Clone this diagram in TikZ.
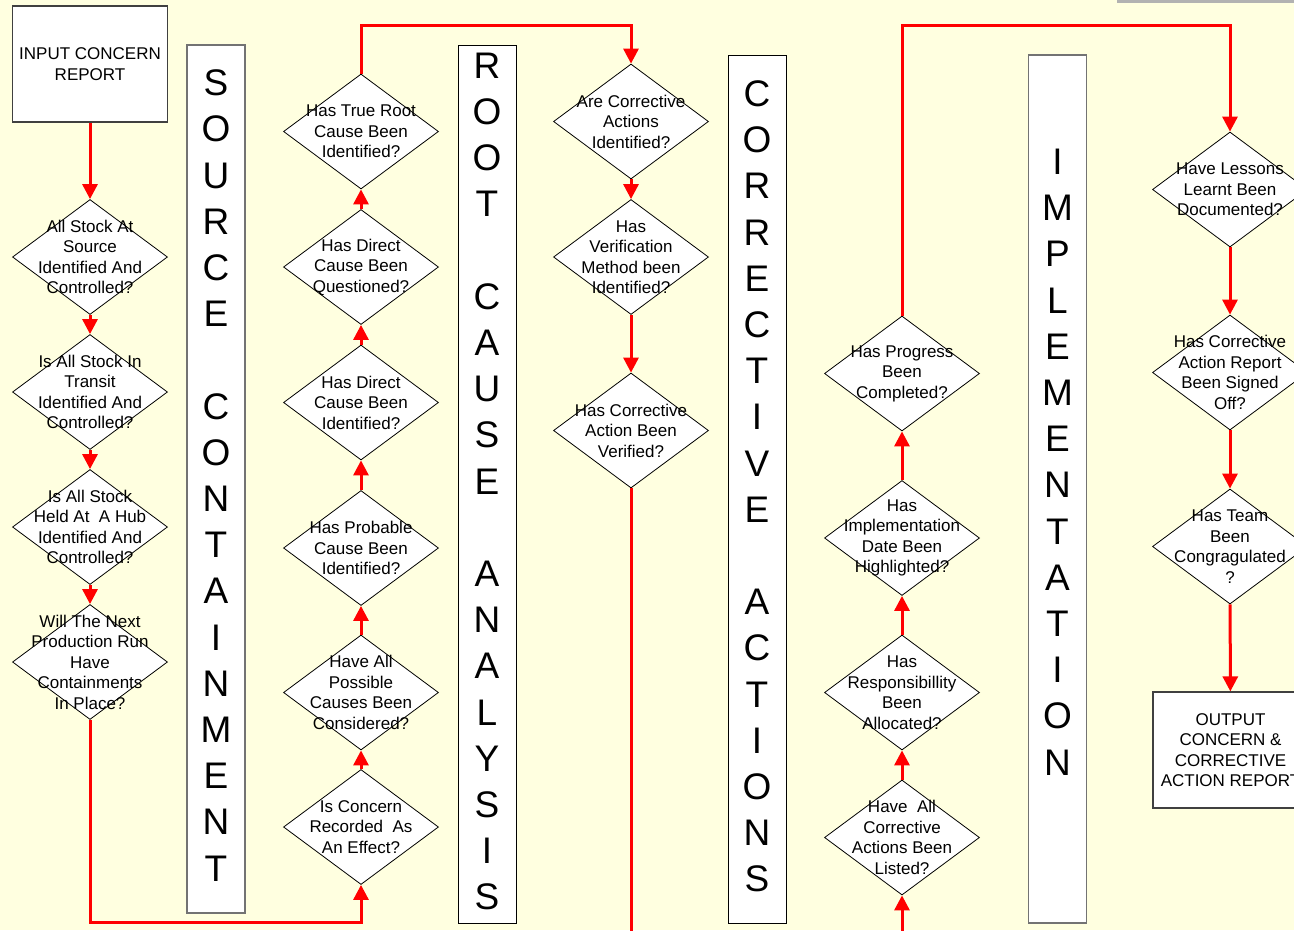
\documentclass[tikz,border=0pt]{standalone}
\usepackage{fontspec}
\setmainfont{Liberation Sans}
\usetikzlibrary{arrows.meta,shapes.geometric}
\definecolor{paper}{RGB}{255,255,224}
\definecolor{flowred}{RGB}{255,0,0}

\begin{document}
\begin{tikzpicture}[x=1pt,y=-1pt,
  flow/.style={flowred,line width=3pt},
  flowarr/.style={flow,-{Triangle[length=15pt,width=15pt]}},
  ask/.style={shape=diamond,draw=black,fill=white,line width=0.8pt,inner sep=0pt,
    minimum width=155pt,minimum height=115pt},
  asktext/.style={align=center,inner sep=0pt,font=\fontsize{17}{20.5}\selectfont},
  report/.style={draw=black!75,fill=white,line width=1.2pt,minimum width=155pt,
    minimum height=116pt,align=center,font=\fontsize{17}{20.5}\selectfont},
  banner/.style={draw=black!55,fill=white,line width=1.5pt,minimum width=58pt,inner sep=0pt},
  letters/.style={align=center,inner sep=0pt,font=\fontsize{37}{46.2}\selectfont}]
  \fill[paper] (0,0) rectangle (1294,930);
  \useasboundingbox (0,0) rectangle (1294,930);
  \fill[black!30] (1117,0) rectangle (1294,3);

  % stage banners
  \node[banner,minimum height=868pt] (bsrc) at (216,479) {};
  \node[letters] (tsrc) at (216,475.5)
    {S\\O\\U\\R\\C\\E\\[46.2pt]C\\O\\N\\T\\A\\I\\N\\M\\E\\N\\T};
  \node[banner,draw=black,line width=1pt,minimum height=878pt] (broot) at (487,484) {};
  \node[letters] (troot) at (487,481.5)
    {R\\O\\O\\T\\[46.2pt]C\\A\\U\\S\\E\\[46.2pt]A\\N\\A\\L\\Y\\S\\I\\S};
  \node[banner,draw=black,line width=1pt,minimum height=868pt] (bcorr) at (757,489) {};
  \node[letters] (tcorr) at (757,486.5)
    {C\\O\\R\\R\\E\\C\\T\\I\\V\\E\\[46.2pt]A\\C\\T\\I\\O\\N\\S};
  \node[banner,minimum height=868pt] (bimpl) at (1057.5,489) {};
  \node[letters] (timpl) at (1057.5,462)
    {I\\M\\P\\L\\E\\M\\E\\N\\T\\A\\T\\I\\O\\N};

  % containment
  \node[report] (inrep) at (90,64) {INPUT CONCERN\\REPORT};
  \node[ask,label={[asktext]center:{All Stock At\\Source\\Identified And\\Controlled?}}] (s1) at (90,257) {};
  \node[ask,label={[asktext]center:{Is All Stock In\\Transit\\Identified And\\Controlled?}}] (s2) at (90,392) {};
  \node[ask,label={[asktext]center:{Is All Stock\\Held At~ A Hub\\Identified And\\Controlled?}}] (s3) at (90,527) {};
  \node[ask,label={[asktext]center:{Will The Next\\Production Run\\Have\\Containments\\In Place?}}] (s4) at (90,662) {};

  % root cause
  \node[ask,label={[asktext]center:{Is Concern\\Recorded~ As\\An Effect?}}] (effect) at (361,827) {};
  \node[ask,label={[asktext]center:{Have All\\Possible\\Causes Been\\Considered?}}] (possible) at (361,692.5) {};
  \node[ask,label={[asktext]center:{Has Probable\\Cause Been\\Identified?}}] (probable) at (361,548) {};
  \node[ask,label={[asktext]center:{Has Direct\\Cause Been\\Identified?}}] (dirid) at (361,402.5) {};
  \node[ask,label={[asktext]center:{Has Direct\\Cause Been\\Questioned?}}] (dirq) at (361,267) {};
  \node[ask,label={[asktext]center:{Has True Root\\Cause Been\\Identified?}}] (trueroot) at (361,131.5) {};

  % corrective actions
  \node[ask,label={[asktext]center:{Are Corrective\\Actions\\Identified?}}] (caid) at (631,121.5) {};
  \node[ask,label={[asktext]center:{Has\\Verification\\Method been\\Identified?}}] (verif) at (631,257) {};
  \node[ask,label={[asktext]center:{Has Corrective\\Action Been\\Verified?}}] (verified) at (631,430.5) {};
  \coordinate (out3) at (631,932);

  % implementation
  \coordinate (in4) at (902,932);
  \node[ask,label={[asktext]center:{Have~ All\\Corrective\\Actions Been\\Listed?}}] (listed) at (902,837.5) {};
  \node[ask,label={[asktext]center:{Has\\Responsibillity\\Been\\Allocated?}}] (resp) at (902,692.5) {};
  \node[ask,label={[asktext]center:{Has\\Implementation\\Date Been\\Highlighted?}}] (impdate) at (902,538) {};
  \node[ask,label={[asktext]center:{Has Progress\\Been\\Completed?}}] (progress) at (902,373.5) {};

  % close out
  \node[ask,label={[asktext]center:{Have Lessons\\Learnt Been\\Documented?}}] (lessons) at (1230,189.5) {};
  \node[ask,label={[asktext]center:{Has Corrective\\Action Report\\Been Signed\\Off?}}] (signed) at (1230,372.5) {};
  \node[ask,label={[asktext]center:{Has Team\\Been\\Congragulated\\?}}] (team) at (1230,546.5) {};
  \node[report] (outrep) at (1230.5,750) {OUTPUT\\CONCERN \&\\CORRECTIVE\\ACTION REPORT};

  \draw[flowarr] (inrep) -- (s1);
  \draw[flowarr] (s1) -- (s2);
  \draw[flowarr] (s2) -- (s3);
  \draw[flowarr] (s3) -- (s4);
  \draw[flowarr] (s4.south) -- ++(0,203) -| (effect.south);
  \draw[flowarr] (effect) -- (possible);
  \draw[flowarr] (possible) -- (probable);
  \draw[flowarr] (probable) -- (dirid);
  \draw[flowarr] (dirid) -- (dirq);
  \draw[flowarr] (dirq) -- (trueroot);
  \draw[flowarr] (trueroot.north) -- ++(0,-48) -| (caid.north);
  \draw[flowarr] (caid) -- (verif);
  \draw[flowarr] (verif) -- (verified);
  \draw[flow] (verified.south) -- (out3);
  \draw[flowarr] (in4) -- (listed.south);
  \draw[flowarr] (listed) -- (resp);
  \draw[flowarr] (resp) -- (impdate);
  \draw[flowarr] (impdate) -- (progress);
  \draw[flowarr] (progress.north) -- ++(0,-290) -| (lessons.north);
  \draw[flowarr] (lessons) -- (signed);
  \draw[flowarr] (signed) -- (team);
  \draw[flowarr] (team) -- (outrep);
\end{tikzpicture}
\end{document}
